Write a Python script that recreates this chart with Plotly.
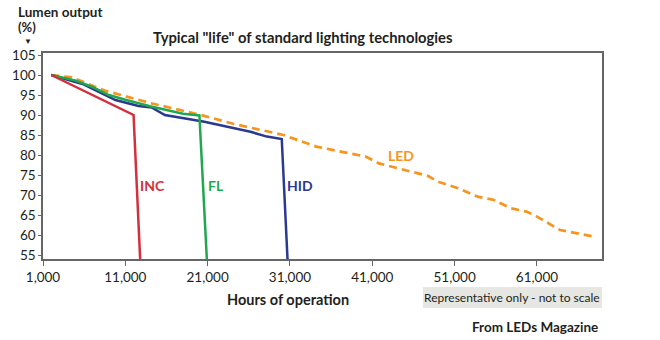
import plotly.graph_objects as go

# ---- data ----
inc_hours = [2000, 4500, 8000, 12000, 12800]
inc_vals = [100, 97.5, 94, 90, 54]

fl_hours = [2000, 5000, 7000, 9000, 11000, 14000, 18000, 20000, 20900]
fl_vals = [100, 98.6, 97.0, 95.0, 93.8, 92.2, 90.3, 89.9, 54]

hid_hours = [2000, 5800, 9800, 12600, 14200, 15800, 20600, 26200, 28200, 30000, 30700]
hid_vals = [100, 97.75, 93.75, 92.25, 91.9, 90.0, 88.3, 85.8, 84.6, 84.0, 54]

led_hours = [2000, 4500, 8500, 14000, 20200, 24200, 30200, 34200, 37800, 40200,
             41800, 44200, 47800, 49000, 51400, 53800, 55800, 57800, 59800,
             61000, 63800, 65900, 67900]
led_vals = [100, 99.4, 96.1, 93.0, 90.0, 87.75, 85.0, 82.1, 80.6, 79.6,
            77.9, 76.7, 74.75, 73.3, 71.7, 69.6, 68.75, 66.7, 65.8,
            64.6, 61.25, 60.4, 59.6]

x_ticks = [1000, 11000, 21000, 31000, 41000, 51000, 61000]
x_tick_labels = ["1,000", "11,000", "21,000", "31,000", "41,000", "51,000", "61,000"]
y_ticks = [55, 60, 65, 70, 75, 80, 85, 90, 95, 100, 105]

labels = ["INC", "FL", "HID", "LED"]
label_x = [14340, 21970, 32250, 44450]
label_y = [72.5, 72.5, 72.5, 79.8]

colors = {"INC": "#d2303e", "FL": "#1fa84f", "HID": "#2b3990", "LED": "#f7941d"}

FONT = "Lato"
TXT = "#231f20"

fig = go.Figure()
fig.add_trace(go.Scatter(x=led_hours, y=led_vals, mode="lines",
                         line=dict(color=colors["LED"], width=2.7, dash="8px,5px")))
fig.add_trace(go.Scatter(x=hid_hours, y=hid_vals, mode="lines",
                         line=dict(color=colors["HID"], width=2.5)))
fig.add_trace(go.Scatter(x=fl_hours, y=fl_vals, mode="lines",
                         line=dict(color=colors["FL"], width=2.5)))
fig.add_trace(go.Scatter(x=inc_hours, y=inc_vals, mode="lines",
                         line=dict(color=colors["INC"], width=2.5)))

for name, lx, ly in zip(labels, label_x, label_y):
    fig.add_annotation(x=lx, y=ly, xref="x", yref="y", text="<b>%s</b>" % name,
                       showarrow=False, font=dict(family=FONT, size=14, color=colors[name]))

W = 565.0
H = 206.0
def px(xp):
    return (xp - 37) / W
def py(yp):
    return (259 - yp) / H

ann = [
    ("<b>Typical \"life\" of standard lighting technologies</b>", 300, 37, "center", 14.8),
    ("<b>Lumen output</b>", 11, 12, "left", 13.5),
    ("<b>(%)</b>", 11, 27.5, "left", 13),
    ("▼", 22, 41.5, "center", 8),
    ("<b>Hours of operation</b>", 285, 299, "center", 14.5),
    ("<b>From LEDs Magazine</b>", 599, 327, "right", 13.5),
]
for t, x, y, anc, s in ann:
    fig.add_annotation(x=px(x), y=py(y), xref="paper", yref="paper", text=t,
                       showarrow=False, xanchor=anc, yanchor="middle",
                       borderpad=0,
                       font=dict(family=FONT, size=s, color=TXT))

fig.add_shape(type="rect", xref="paper", yref="paper",
              x0=px(421), x1=px(602), y0=py(308), y1=py(287),
              fillcolor="#e6e7e2", line=dict(width=0), layer="below")
fig.add_annotation(x=px(511.5), y=py(297.5), xref="paper", yref="paper",
                   text="Representative only - not to scale", showarrow=False,
                   xanchor="center", yanchor="middle",
                   font=dict(family=FONT, size=12, color=TXT))

fig.update_layout(
    width=660, height=340,
    margin=dict(l=37, r=58, t=53, b=81),
    paper_bgcolor="white", plot_bgcolor="white",
    showlegend=False,
    font=dict(family=FONT, color=TXT, size=13),
)
fig.update_xaxes(range=[1000, 68900], tickvals=x_ticks, ticktext=x_tick_labels,
                 showgrid=False, zeroline=False, showline=True, linecolor="#666",
                 linewidth=1.5, mirror=True, ticks="outside", ticklen=5,
                 tickcolor="#666", tickfont=dict(family=FONT, size=13.5, color=TXT))
fig.update_yaxes(range=[54, 105.5], tickvals=y_ticks,
                 showgrid=False, zeroline=False, showline=True, linecolor="#666",
                 linewidth=1.5, mirror=True, ticks="outside", ticklen=3,
                 tickcolor="#666", tickfont=dict(family=FONT, size=13.5, color=TXT))

fig.write_html("out.html")
